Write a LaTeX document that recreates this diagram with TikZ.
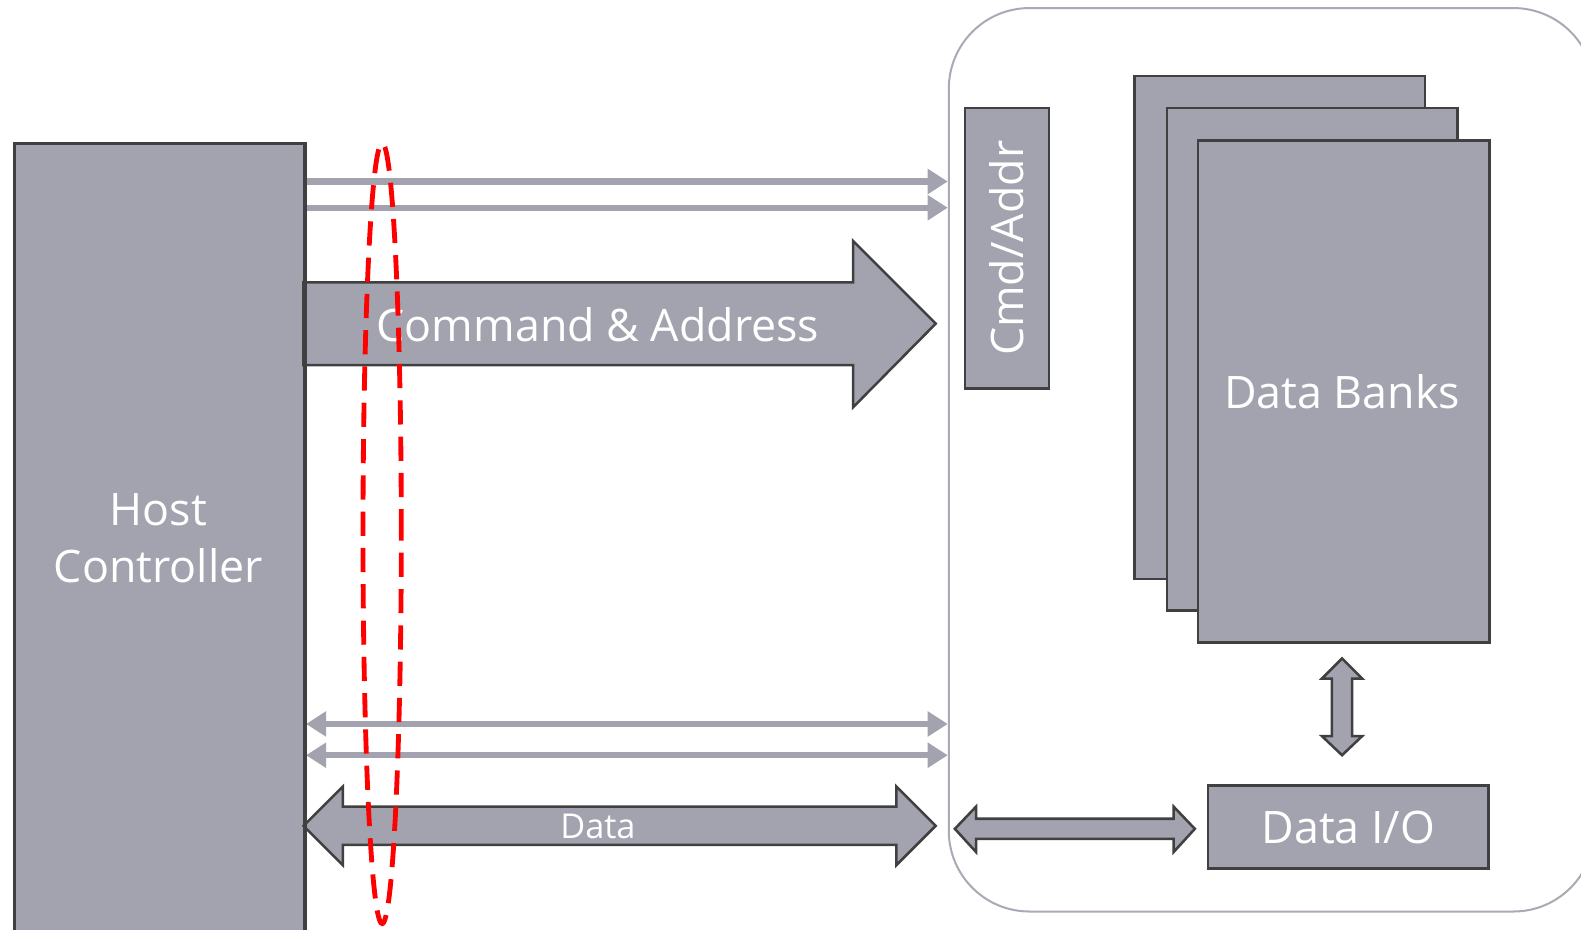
\documentclass[tikz,border=0pt]{standalone}
\usepackage{fontspec}
\setmainfont{Open Sans}
\usetikzlibrary{arrows.meta}
\definecolor{unitfill}{HTML}{A2A3AF}
\definecolor{unitedge}{HTML}{404040}
\definecolor{framegray}{HTML}{A9AAB5}
\definecolor{linkgray}{HTML}{A2A3AF}
\definecolor{ringred}{HTML}{FF0000}
\begin{document}
\begin{tikzpicture}[x=0.5pt, y=-0.5pt,
  unit/.style={draw=unitedge, fill=unitfill, line width=1.25pt, inner sep=0pt, anchor=north west},
  lbl/.style={text=white, font=\fontsize{22.2}{28.5}\selectfont, align=center, inner sep=0pt},
  smalllbl/.style={text=white, font=\fontsize{17}{20}\selectfont, inner sep=0pt},
  bigarrow/.style={draw=unitedge, fill=unitfill, line width=1.25pt, line join=miter},
  wire/.style={draw=linkgray, line width=3pt},
  tipR/.style={-{Triangle[length=10pt,width=12pt]}},
  tipLR/.style={{Triangle[length=10pt,width=12pt]}-{Triangle[length=10pt,width=12pt]}},
  ring/.style={draw=ringred, line width=2.4pt, dash pattern=on 12pt off 6pt}]
\useasboundingbox (0,0) rectangle (1568,922);

% memory device frame (right edge runs just past the page)
\node[draw=framegray, line width=1pt, rounded corners=40pt, minimum width=320pt,
      minimum height=448pt, inner sep=0pt, anchor=north west] (mem) at (940,7) {};

% wire rows
\coordinate (r1) at (0,180);
\coordinate (r2) at (0,206);
\coordinate (r3) at (0,718);
\coordinate (r4) at (0,749);

% host controller
\node[unit, minimum width=144pt, minimum height=400pt] (host) at (13,141) {};
\node[lbl] (hostlbl) at (157,534) {Host\\Controller};

% command / address wires
\draw[wire, tipR] (host.east |- r1) -- (mem.west |- r1);
\draw[wire, tipR] (host.east |- r2) -- (mem.west |- r2);
% data wires
\draw[wire, tipLR] (host.east |- r3) -- (mem.west |- r3);
\draw[wire, tipLR] (host.east |- r4) -- (mem.west |- r4);

% command & address bus
\draw[bigarrow] (301,280) -- (846,280) -- (846,239) -- (928,321) -- (846,404)
  -- (846,362) -- (301,362) -- cycle;
\node[lbl] (calbl) at (593,322) {Command \& Address};

% data bus
\draw[bigarrow] (301,819) -- (340,780) -- (340,800) -- (889,800) -- (889,780)
  -- (928,819) -- (889,858) -- (889,838) -- (340,838) -- (340,858) -- cycle;
\node[smalllbl] (datalbl) at (593,820) {Data};

% host edge drawn over the bus ends
\draw[draw=unitedge, line width=1.25pt] (host.north east) -- (host.south east);

% command/address block
\node[unit, minimum width=41.5pt, minimum height=139pt] (cmd) at (956,106) {};
\node[lbl, rotate=90] (cmdlbl) at (cmd.center) {Cmd/Addr};

% data banks
\node[unit, minimum width=144pt, minimum height=249.5pt] (bankA) at (1124,74) {};
\node[unit, minimum width=144pt, minimum height=249pt] (bankB) at (1156,106) {};
\node[unit, minimum width=144.5pt, minimum height=249pt] (bankC) at (1187,138) {};
\node[lbl] (banklbl) at (1331,388) {Data Banks};

% data I/O block
\node[unit, minimum width=139pt, minimum height=41pt] (dio) at (1197,778) {};
\node[lbl] (diolbl) at (dio.center) {Data I/O};

% banks <-> data I/O
\draw[bigarrow] (1331,653) -- (1351,673) -- (1341,673) -- (1341,730) -- (1351,730)
  -- (1331,749) -- (1311,730) -- (1321,730) -- (1321,673) -- (1311,673) -- cycle;

% frame edge <-> data I/O
\draw[bigarrow] (947,822) -- (968,800) -- (968,812) -- (1164,812) -- (1164,800)
  -- (1185,822) -- (1164,845) -- (1164,832) -- (968,832) -- (968,845) -- cycle;

% interface boundary marker
\draw[ring] (379,529) ellipse [x radius=9.5pt, y radius=193.5pt];
\end{tikzpicture}
\end{document}
